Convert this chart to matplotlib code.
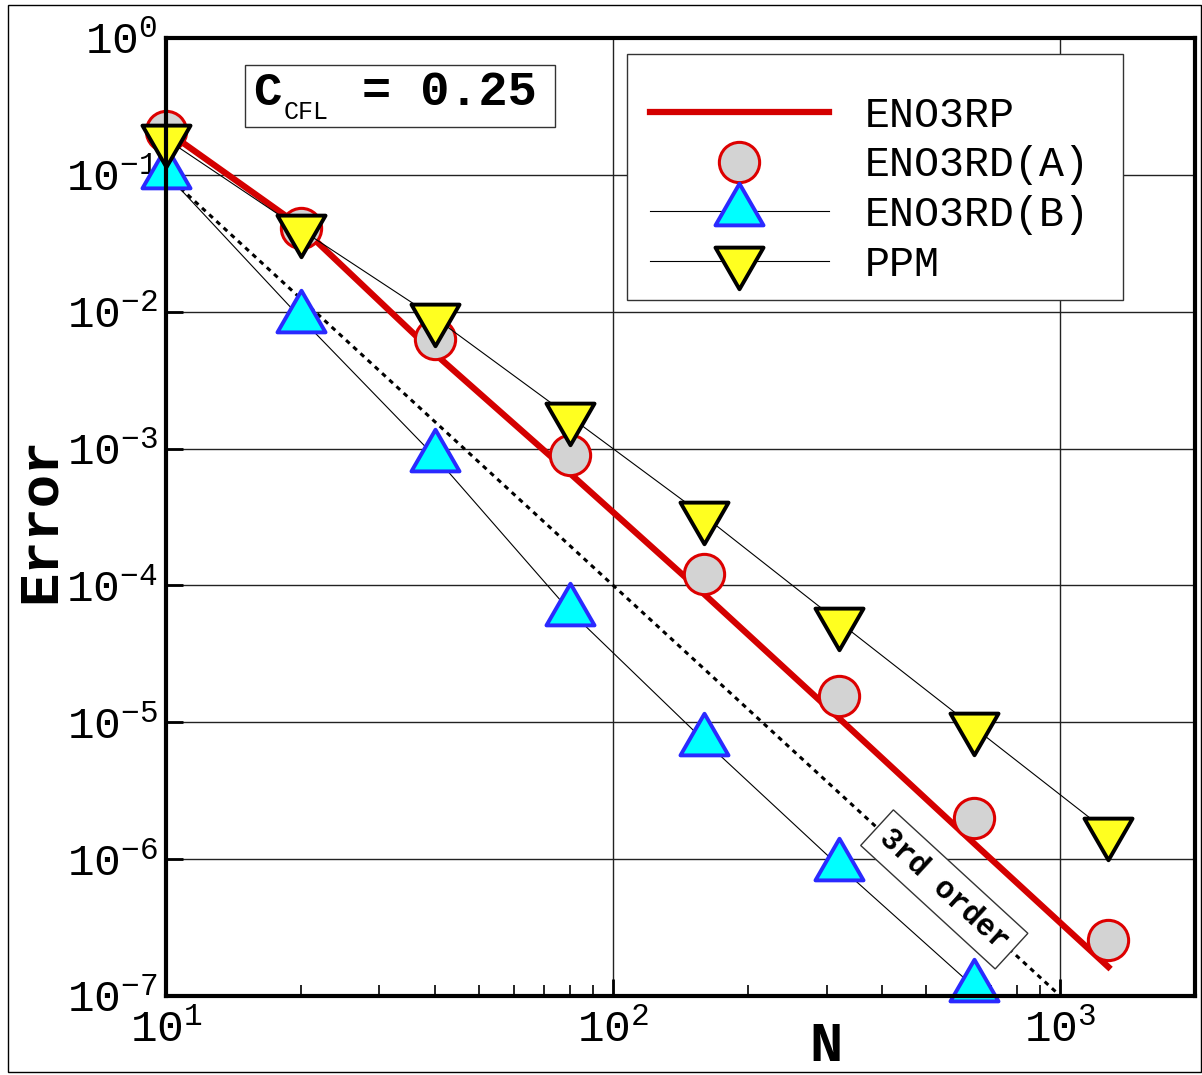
import numpy as np
import matplotlib
matplotlib.use("Agg")
import matplotlib.pyplot as plt
from matplotlib.patches import Rectangle
from matplotlib.path import Path
from matplotlib.ticker import FuncFormatter, LogLocator, NullLocator

# ─── Data ─────────────────────────────────────────────────────────────────────
N = [10, 20, 40, 80, 160, 320, 640, 1280]
eno3rp = [0.21, 0.042, 4.9e-3, 6.6e-4, 8.6e-5, 1.07e-5, 1.31e-6, 1.63e-7]
eno3rd_a = [0.21, 0.041, 6.3e-3, 9.0e-4, 1.22e-4, 1.55e-5, 2.0e-6, 2.55e-7]
N_b = [10, 20, 40, 80, 160, 320, 640]
eno3rd_b = [0.102, 9.0e-3, 8.7e-4, 6.5e-5, 7.3e-6, 8.9e-7, 1.17e-7]
ppm = [0.183, 0.040, 9.0e-3, 1.71e-3, 3.2e-4, 5.4e-5, 9.2e-6, 1.57e-6]
ref_n = [10, 1000]
ref_err = [1e-1, 1e-7]
ref_label_n = 550

MONO = ["Liberation Mono", "DejaVu Sans Mono"]
plt.rcParams["font.family"] = MONO
plt.rcParams["mathtext.fontset"] = "custom"
plt.rcParams["mathtext.rm"] = "Liberation Mono"
plt.rcParams["mathtext.it"] = "Liberation Mono"
plt.rcParams["mathtext.bf"] = "Liberation Mono:bold"

W, H = 1202, 1075


def fx(px):
    return px / W


def fy(py):
    return 1 - py / H


# triangles centred on their centroid (like the original plotting tool)
s3 = np.sqrt(3)
tri_up = Path([(0, 2), (-s3, -1), (s3, -1), (0, 2)], closed=True)
tri_dn = Path([(0, -2), (-s3, 1), (s3, 1), (0, -2)], closed=True)

fig = plt.figure(figsize=(W / 100, H / 100), dpi=100)
ax = fig.add_axes([fx(166), fy(996), fx(1195) - fx(166), fy(38) - fy(996)])

ax.set_xscale("log")
ax.set_yscale("log")
ax.set_xlim(10, 2000)
ax.set_ylim(1e-7, 1)

ax.plot(N, eno3rp, color="#d40000", lw=4.5, zorder=3, label="ENO3RP")
ax.plot(N, eno3rd_a, ls="none", marker="o", ms=29, mfc="#d3d3d3",
        mec="#dd0000", mew=2.2, zorder=4, clip_on=False, label="ENO3RD(A)")
ax.plot(N_b, eno3rd_b, color="k", lw=0.8, marker=tri_up, ms=40, mfc="#00ffff",
        mec="#2a2aff", mew=2.8, zorder=5, clip_on=False, label="ENO3RD(B)")
ax.plot(N, ppm, color="k", lw=0.8, marker=tri_dn, ms=40, mfc="#ffff20",
        mec="k", mew=2.8, zorder=6, clip_on=False, label="PPM")

# 3rd-order reference slope
ax.plot(ref_n, ref_err, color="k", lw=2.2, ls=(0, (1.6, 1.6)), zorder=2)
p1 = ax.transData.transform((ref_n[0], ref_err[0]))
p2 = ax.transData.transform((ref_n[1], ref_err[1]))
angle = np.degrees(np.arctan2(p2[1] - p1[1], p2[0] - p1[0]))
ref_label_err = ref_err[0] * (ref_n[0] / ref_label_n) ** 3
ax.text(ref_label_n, ref_label_err, "3rd order", rotation=angle,
        rotation_mode="anchor", ha="center", va="center", fontsize=22,
        fontweight="bold", zorder=7,
        bbox=dict(boxstyle="square,pad=0.3", fc="white", ec="#333", lw=1))

# axes styling
ax.grid(True, which="major", color="#222", lw=1.0)
ax.set_axisbelow(True)
for sp in ax.spines.values():
    sp.set_linewidth(3)
    sp.set_zorder(10)

fmt = FuncFormatter(lambda v, pos: f"$10^{{{int(round(np.log10(v)))}}}$")
ax.xaxis.set_major_formatter(fmt)
ax.yaxis.set_major_formatter(fmt)
ax.yaxis.set_major_locator(LogLocator(base=10, numticks=20))
ax.yaxis.set_minor_locator(NullLocator())
ax.xaxis.set_minor_locator(LogLocator(base=10, subs=np.arange(2, 10), numticks=20))
ax.tick_params(which="major", direction="in", length=12, width=2,
               labelsize=32, top=False, right=False)
ax.tick_params(axis="y", which="major", pad=6)
ax.tick_params(axis="x", which="major", pad=9)
ax.tick_params(which="minor", direction="in", length=8, width=1.2)

ax.set_xlabel("N", fontsize=40, fontweight="bold")
ax.set_ylabel("Error", fontsize=40, fontweight="bold")
ax.xaxis.set_label_coords(0.641, -0.026)
ax.yaxis.set_label_coords(-0.096, 0.497)

# legend (frame drawn separately to match the original box)
ax.add_patch(Rectangle((fx(627), fy(300)), fx(1123) - fx(627), fy(54) - fy(300),
                       transform=fig.transFigure, fc="white", ec="#333",
                       lw=1, zorder=7.5, clip_on=False))
leg = ax.legend(loc="upper left", bbox_to_anchor=(0.448, 0.9636),
                borderaxespad=0, fontsize=30, frameon=False,
                handlelength=4.3, handletextpad=0.85,
                borderpad=0.55, labelspacing=0.23, numpoints=1)
leg.set_zorder(8)

# C_CFL box
fig.patches.append(Rectangle((fx(245), fy(127)), fx(555) - fx(245), fy(65) - fy(127),
                             transform=fig.transFigure, fill=False, ec="#333", lw=1))
fig.text(fx(253), fy(105), "C", fontsize=34, fontweight="bold", va="baseline")
fig.text(fx(284), fy(119), "CFL", fontsize=18, va="baseline")
fig.text(fx(362), fy(105), "= 0.25", fontsize=35, fontweight="bold", va="baseline")

# outer frame
fig.patches.append(Rectangle((fx(8), fy(1072)), fx(1201) - fx(8), fy(5) - fy(1072),
                             transform=fig.transFigure, fill=False, ec="k", lw=1))

fig.savefig("out.png", dpi=100)
